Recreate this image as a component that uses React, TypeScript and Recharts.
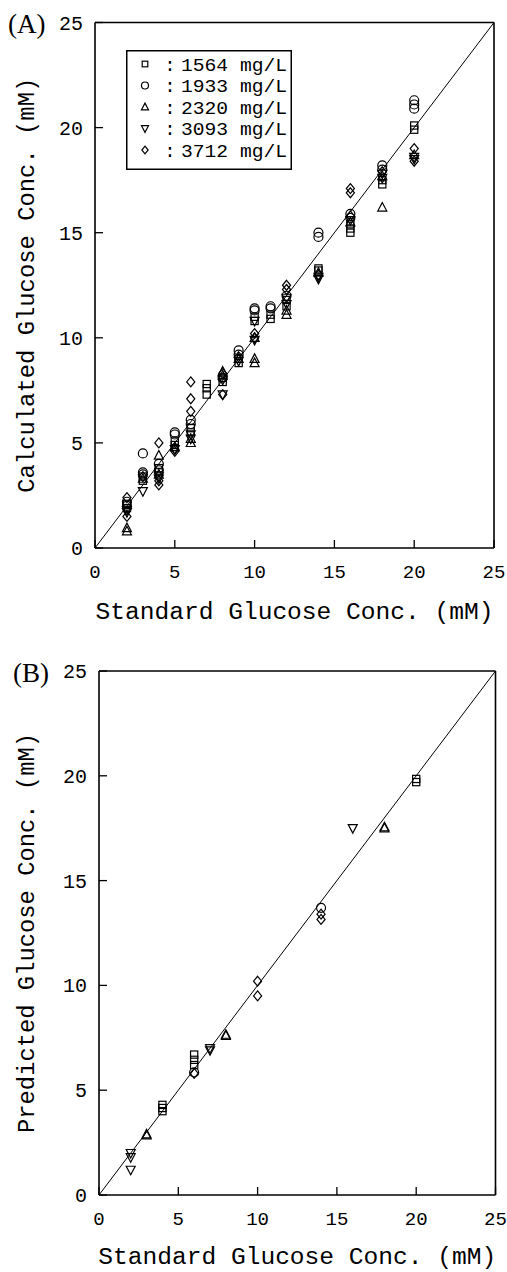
import React from "react"
import { ScatterChart, Scatter, XAxis, YAxis, ReferenceLine, Legend, Label } from "recharts"

// axis ticks shared by both panels
const ticks = [0, 5, 10, 15, 20, 25]
const diagonal = [{ x: 0, y: 0 }, { x: 25, y: 25 }]

// (A) calculated vs standard, one array per polymer concentration
const sqA = [[2, 1.9], [2, 2.1], [3, 3.2], [3, 3.4], [4, 3.6], [4, 3.8], [5, 4.9], [5, 5.1], [6, 5.5], [6, 5.7], [7, 7.3], [7, 7.6], [7, 7.8], [8, 7.9], [8, 8.1], [9, 8.8], [9, 9.0], [10, 10.8], [10, 11.0], [11, 10.9], [11, 11.1], [12, 11.5], [12, 11.8], [14, 13.2], [14, 13.3], [16, 15.0], [16, 15.2], [16, 15.4], [18, 17.3], [18, 17.5], [20, 19.9], [20, 20.1]]
const ciA = [[2, 2.0], [2, 2.2], [3, 4.5], [3, 3.5], [3, 3.6], [4, 4.0], [4, 3.7], [5, 5.5], [5, 5.4], [6, 6.1], [6, 5.9], [8, 8.1], [9, 9.4], [9, 9.2], [10, 11.4], [10, 11.3], [11, 11.5], [11, 11.4], [12, 12.0], [14, 15.0], [14, 14.8], [16, 15.9], [16, 15.7], [18, 18.2], [18, 18.0], [20, 21.3], [20, 21.1], [20, 20.9]]
const trA = [[2, 0.8], [2, 0.95], [3, 3.3], [4, 4.4], [4, 3.5], [5, 4.8], [6, 5.0], [6, 5.2], [8, 8.4], [8, 8.2], [9, 9.0], [10, 9.0], [10, 8.8], [10, 10.0], [12, 11.1], [12, 11.3], [14, 13.1], [16, 15.5], [18, 16.2], [18, 17.7], [20, 18.7]]
const ivA = [[2, 1.7], [2, 1.8], [3, 2.7], [4, 3.3], [4, 3.4], [5, 4.7], [6, 5.2], [6, 5.4], [8, 8.0], [8, 7.3], [9, 8.9], [10, 9.9], [10, 10.8], [12, 11.6], [12, 11.9], [14, 12.9], [14, 12.8], [16, 15.6], [18, 17.6], [18, 17.8], [20, 18.6], [20, 18.5]]
const diA = [[2, 1.5], [2, 2.4], [3, 3.4], [4, 5.0], [4, 3.0], [4, 3.2], [5, 4.6], [5, 4.7], [6, 7.9], [6, 7.1], [6, 6.5], [8, 7.3], [8, 8.3], [9, 9.1], [10, 10.2], [10, 10.0], [12, 12.5], [12, 12.3], [14, 13.0], [16, 17.1], [16, 16.9], [16, 15.8], [18, 17.9], [20, 19.0], [20, 18.4]]

// (B) predicted vs standard
const sqB = [[4, 4.0], [4, 4.15], [4, 4.3], [6, 6.2], [6, 6.45], [6, 6.7], [20, 19.7], [20, 19.85]]
const ciB = [[6, 5.85], [14, 13.7]]
const trB = [[3, 2.85], [3, 2.9], [8, 7.6], [8, 7.65], [18, 17.5], [18, 17.55]]
const ivB = [[2, 2.0], [2, 1.8], [2, 1.2], [7, 6.9], [7, 7.0], [16, 17.5]]
const diB = [[6, 5.8], [10, 10.2], [10, 9.5], [14, 13.4], [14, 13.15]]

const seriesNames = ["1564 mg/L", "1933 mg/L", "2320 mg/L", "3093 mg/L", "3712 mg/L"]
const kinds = ["square", "circle", "tri", "inv", "diamond"]

const toPts = (arr: number[][]) => arr.map(([x, y]) => ({ x, y }))

const mono = "'Liberation Mono', 'DejaVu Sans Mono', monospace"

function Marker({ kind, cx, cy, s }: { kind: string; cx: number; cy: number; s: number }) {
  const st = { fill: "none", stroke: "#000", strokeWidth: 1.2 }
  if (kind === "square") return <rect x={cx - s * 0.4} y={cy - s * 0.4} width={s * 0.8} height={s * 0.8} {...st} />
  if (kind === "circle") return <circle cx={cx} cy={cy} r={s * 0.5} {...st} />
  if (kind === "tri")
    return <polygon points={`${cx},${cy - s * 0.55} ${cx - s * 0.5},${cy + s * 0.4} ${cx + s * 0.5},${cy + s * 0.4}`} {...st} />
  if (kind === "inv")
    return <polygon points={`${cx},${cy + s * 0.55} ${cx - s * 0.5},${cy - s * 0.4} ${cx + s * 0.5},${cy - s * 0.4}`} {...st} />
  return <polygon points={`${cx},${cy - s * 0.55} ${cx + s * 0.45},${cy} ${cx},${cy + s * 0.55} ${cx - s * 0.45},${cy}`} {...st} />
}

const TICK = 8
const AX = 60 // bottom axis height / left axis width
const AX2 = 10 // top / right axis size

const BottomTick = (p: any) => (
  <g>
    <line x1={p.x} y1={p.y} x2={p.x} y2={p.y - TICK} stroke="#000" strokeWidth={1.3} />
    <text x={p.x} y={p.y + 30} textAnchor="middle" fontFamily={mono} fontSize={19} fill="#000">
      {p.payload.value}
    </text>
  </g>
)
const LeftTick = (p: any) => (
  <g>
    <line x1={p.x} y1={p.y} x2={p.x + TICK} y2={p.y} stroke="#000" strokeWidth={1.3} />
    <text x={p.x - 12} y={p.y + 7} textAnchor="end" fontFamily={mono} fontSize={20} fill="#000">
      {p.payload.value}
    </text>
  </g>
)
const TopTick = (p: any) => <line x1={p.x} y1={p.y} x2={p.x} y2={p.y + TICK} stroke="#000" strokeWidth={1.3} />
const RightTick = (p: any) => <line x1={p.x} y1={p.y} x2={p.x - TICK} y2={p.y} stroke="#000" strokeWidth={1.3} />

function LegendBox({ payload }: any) {
  return (
    <svg width={166} height={120} style={{ display: "block" }}>
      <rect x={0.75} y={0.75} width={164.5} height={118.5} fill="#fff" stroke="#000" strokeWidth={1.5} />
      {(payload || []).map((e: any, i: number) => {
        const cy = 14 + i * 21.5
        return (
          <g key={i}>
            <Marker kind={kinds[seriesNames.indexOf(e.value)]} cx={19} cy={cy} s={7} />
            <text x={44} y={cy + 6.5} textAnchor="middle" fontFamily={mono} fontSize={19} fill="#000">
              :
            </text>
            <text x={55} y={cy + 6.5} fontFamily={mono} fontSize={19} textLength={106} lengthAdjust="spacingAndGlyphs" fill="#000">
              {e.value}
            </text>
          </g>
        )
      })}
    </svg>
  )
}

type PanelProps = {
  w: number
  h: number
  plot: { left: number; top: number; right: number; bottom: number }
  sets: number[][][]
  yTitle: string
  yTitleLen: number
  xTitleDy: number
  tag: string
  tagX: number
  tagY: number
  legend?: boolean
}

function Panel({ w, h, plot, sets, yTitle, yTitleLen, xTitleDy, tag, tagX, tagY, legend }: PanelProps) {
  const margin = {
    top: plot.top - AX2,
    right: w - plot.right - AX2,
    bottom: h - plot.bottom - AX,
    left: plot.left - AX,
  }
  return (
    <ScatterChart width={w} height={h} margin={margin}>
      <XAxis
        xAxisId="b"
        dataKey="x"
        type="number"
        domain={[0, 25]}
        ticks={ticks}
        height={AX}
        tickSize={0}
        tickMargin={0}
        tickLine={false}
        tick={BottomTick}
        axisLine={{ stroke: "#000", strokeWidth: 1.6 }}
      >
        <Label
          content={({ viewBox }: any) => (
            <text
              x={viewBox.x + viewBox.width / 2}
              y={viewBox.y + xTitleDy}
              textAnchor="middle"
              fontFamily={mono}
              fontSize={23}
              textLength={398}
              lengthAdjust="spacingAndGlyphs"
              fill="#000"
            >
              Standard Glucose Conc. (mM)
            </text>
          )}
        />
      </XAxis>
      <XAxis
        xAxisId="t"
        orientation="top"
        type="number"
        domain={[0, 25]}
        ticks={ticks}
        height={AX2}
        tickSize={0}
        tickMargin={0}
        tickLine={false}
        tick={TopTick}
        axisLine={{ stroke: "#000", strokeWidth: 1.6 }}
      >
        <Label
          content={() => (
            <text x={tagX} y={tagY} fontFamily="'Liberation Serif', serif" fontSize={27} fill="#000">
              {tag}
            </text>
          )}
        />
      </XAxis>
      <YAxis
        yAxisId="l"
        dataKey="y"
        type="number"
        domain={[0, 25]}
        ticks={ticks}
        width={AX}
        tickSize={0}
        tickMargin={0}
        tickLine={false}
        tick={LeftTick}
        axisLine={{ stroke: "#000", strokeWidth: 1.6 }}
      >
        <Label
          content={({ viewBox }: any) => {
            const cy = viewBox.y + viewBox.height / 2
            return (
              <text
                transform={`translate(34, ${cy}) rotate(-90)`}
                textAnchor="middle"
                fontFamily={mono}
                fontSize={23}
                textLength={yTitleLen}
                lengthAdjust="spacingAndGlyphs"
                fill="#000"
              >
                {yTitle}
              </text>
            )
          }}
        />
      </YAxis>
      <YAxis
        yAxisId="r"
        orientation="right"
        type="number"
        domain={[0, 25]}
        ticks={ticks}
        width={AX2}
        tickSize={0}
        tickMargin={0}
        tickLine={false}
        tick={RightTick}
        axisLine={{ stroke: "#000", strokeWidth: 1.6 }}
      />
      <ReferenceLine xAxisId="b" yAxisId="l" segment={diagonal} stroke="#000" strokeWidth={1} ifOverflow="visible" />
      {sets.map((s, i) => (
        <Scatter
          key={i}
          name={seriesNames[i]}
          xAxisId="b"
          yAxisId="l"
          data={toPts(s)}
          isAnimationActive={false}
          shape={(p: any) => <Marker kind={kinds[i]} cx={p.cx} cy={p.cy} s={9} />}
        />
      ))}
      {legend && (
        <Legend
          layout="horizontal"
          verticalAlign="middle"
          align="center"
          content={LegendBox}
          wrapperStyle={{ position: "absolute", left: 126, top: 50, width: 166, height: 120 }}
        />
      )}
    </ScatterChart>
  )
}

export default function App() {
  return (
    <div style={{ position: "absolute", left: 0, top: 0, width: 507, height: 1272, background: "#fff" }}>
      <div style={{ position: "absolute", left: 0, top: 0 }}>
        <Panel
          w={507}
          h={630}
          plot={{ left: 95, top: 22.5, right: 494, bottom: 548 }}
          sets={[sqA, ciA, trA, ivA, diA]}
          yTitle="Calculated Glucose Conc. (mM)"
          yTitleLen={415}
          xTitleDy={71}
          tag="(A)"
          tagX={8}
          tagY={33}
          legend
        />
      </div>
      <div style={{ position: "absolute", left: 0, top: 630 }}>
        <Panel
          w={507}
          h={642}
          plot={{ left: 99, top: 41, right: 495.5, bottom: 565 }}
          sets={[sqB, ciB, trB, ivB, diB]}
          yTitle="Predicted Glucose Conc. (mM)"
          yTitleLen={400}
          xTitleDy={69}
          tag="(B)"
          tagX={13}
          tagY={52}
        />
      </div>
    </div>
  )
}
